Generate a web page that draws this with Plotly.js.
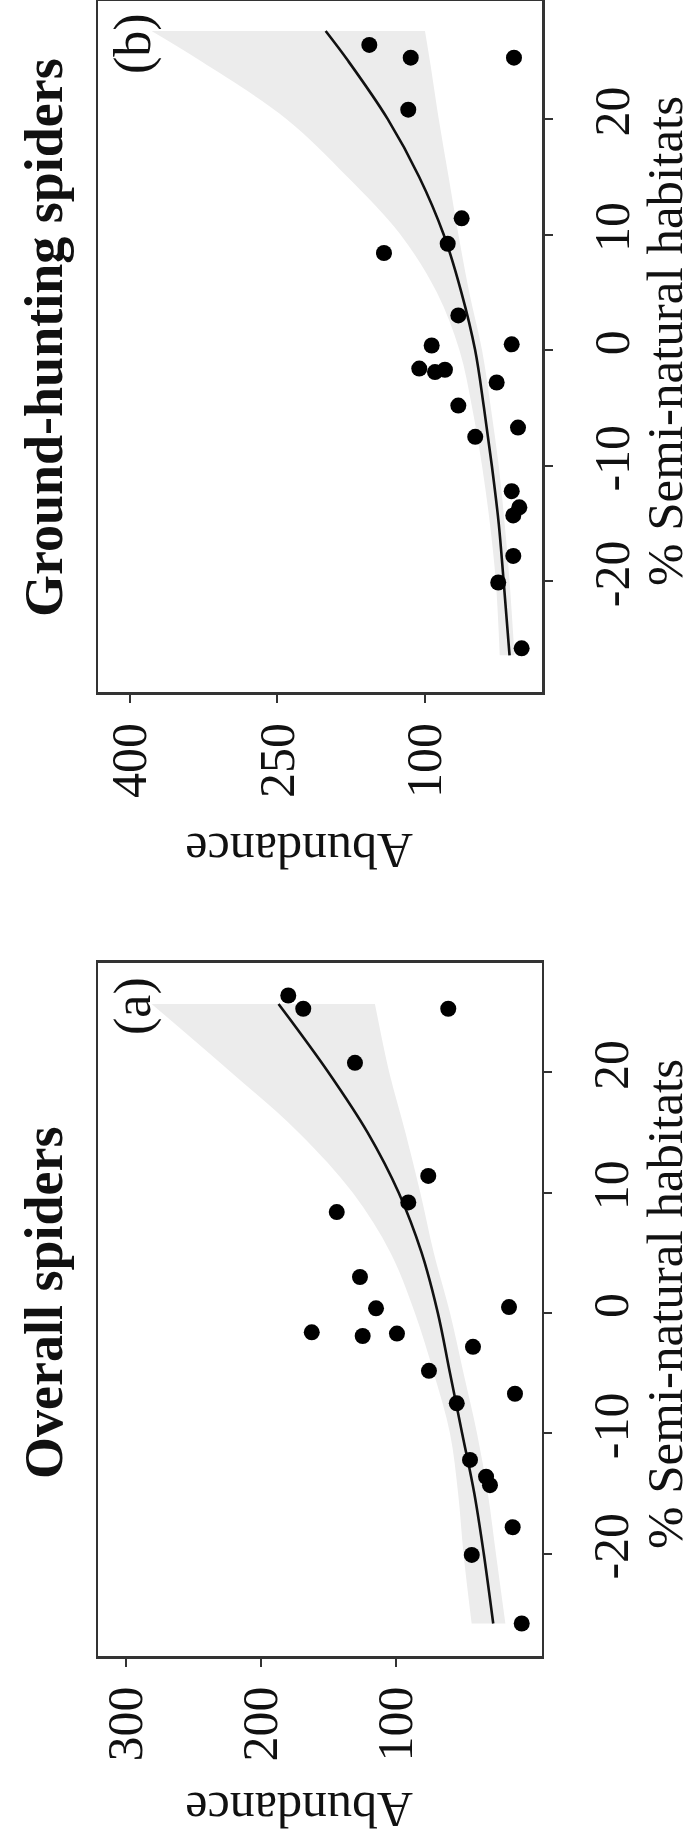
<!DOCTYPE html>
<html>
<head>
<meta charset="utf-8">
<script src="https://cdn.plot.ly/plotly-3.0.1.min.js"></script>
<style>
  html, body { margin: 0; padding: 0; background: #fff; overflow: hidden; }
  #chart { width: 700px; height: 1843px; }
</style>
</head>
<body>
<div id="chart"></div>
<script>
// ---- data ----
// % semi-natural habitats (centred) of the 23 sites, shared by both panels
const habitat = [26.4, 25.3, 25.3, 20.8, 11.4, 9.2, 8.4, 3.0, 0.4, 0.5, -1.6, -1.9, -1.7, -2.8, -4.8, -6.7, -7.5, -12.2, -13.6, -14.3, -17.8, -20.1, -25.8];
// (a) Overall spiders: observed abundance
const overallAbundance = [179.8, 168.7, 61.3, 130.4, 76.1, 90.9, 143.9, 126.7, 114.8, 16.3, 162.4, 124.7, 99.3, 43.0, 75.6, 11.9, 55.0, 45.2, 33.3, 30.4, 13.6, 43.9, 6.9];
// (b) Ground-hunting spiders: observed abundance
const groundAbundance = [156.6, 114.5, 9.5, 117.0, 62.7, 76.9, 141.7, 66.1, 93.2, 11.8, 105.8, 89.8, 79.7, 27.1, 66.1, 5.4, 48.9, 11.8, 4.1, 10.2, 10.2, 25.5, 1.7];

// fitted curve and confidence band, panel (a)
const fitHabitatA = [25.7, 20, 15, 10, 5, 0, -5, -10, -15, -20, -25.8];
const fitOverall = [187, 150, 121, 98, 81, 69, 60, 51, 42, 35, 28];
const bandLowOverall = [115.6, 105, 93, 82, 72, 60, 50, 40, 32, 26, 19];
const bandHighOverall = [281, 222, 172, 132, 104, 86, 72, 60, 54, 50, 44];

// fitted curve and confidence band, panel (b)
const fitHabitatB = [27.6, 25, 20, 15, 10, 5, 0, -5, -10, -15, -20, -26.4];
const fitGround = [201, 178, 138, 106, 81, 63, 49, 40, 32, 25, 20, 14];
const bandLowGround = [100, 95, 86, 76, 66, 55, 42, 33, 25, 19, 14, 9];
const bandHighGround = [378, 328, 241, 179, 125, 88, 65, 52, 42, 34, 28, 24];

// axis tick labels
const ticksOverall = [100, 200, 300];
const ticksGround = [100, 250, 400];
const ticksHabitat = [-20, -10, 0, 10, 20];

const titles = ["Overall spiders", "Ground-hunting spiders"];
const panelLabels = ["(a)", "(b)"];
const xLabel = "% Semi-natural habitats";
const yLabel = "Abundance";

// ---- drawing ----
const W = 700, H = 1843;
const px = v => v / W;
const py = v => 1 - v / H;
const serif = "Liberation Serif, Times New Roman, serif";
const bandColor = "rgb(236,236,236)";

function bandLines(hs, lo, hi, xa, ya) {
  // lower edge first, upper edge filled back to it
  return [
    { x: lo, y: hs, xaxis: xa, yaxis: ya, type: "scatter", mode: "lines",
      line: { width: 0, color: bandColor, shape: "spline" }, hoverinfo: "skip" },
    { x: hi, y: hs, xaxis: xa, yaxis: ya, type: "scatter", mode: "lines",
      fill: "tonextx", fillcolor: bandColor,
      line: { width: 0, color: bandColor, shape: "spline" }, hoverinfo: "skip" }
  ];
}

const traces = [].concat(
  bandLines(fitHabitatA, bandLowOverall, bandHighOverall, "x", "y"),
  [
    { x: fitOverall, y: fitHabitatA, xaxis: "x", yaxis: "y", type: "scatter", mode: "lines",
      line: { color: "#111", width: 2.6, shape: "spline" } },
    { x: overallAbundance, y: habitat, xaxis: "x", yaxis: "y", type: "scatter", mode: "markers",
      marker: { color: "#000", size: 16 } }
  ],
  bandLines(fitHabitatB, bandLowGround, bandHighGround, "x2", "y2"),
  [
    { x: fitGround, y: fitHabitatB, xaxis: "x2", yaxis: "y2", type: "scatter", mode: "lines",
      line: { color: "#111", width: 2.6, shape: "spline" } },
    { x: groundAbundance, y: habitat, xaxis: "x2", yaxis: "y2", type: "scatter", mode: "markers",
      marker: { color: "#000", size: 16 } }
  ]
);

const tickFont = { family: serif, size: 50, color: "#111" };
function abundAxis(domain, range, ticks, anchor) {
  return {
    domain: domain, range: range, anchor: anchor, side: "bottom",
    tickmode: "array", tickvals: ticks, ticktext: ticks.map(String),
    tickangle: -90, ticks: "outside", ticklen: 8, tickwidth: 2, tickcolor: "#333",
    tickfont: tickFont, showgrid: false, zeroline: false,
    showline: true, linewidth: 2.6, linecolor: "#333", mirror: true
  };
}
function habAxis(domain, range, anchor) {
  return {
    domain: domain, range: range, anchor: anchor, side: "right",
    tickmode: "array", tickvals: ticksHabitat, ticktext: ticksHabitat.map(String),
    tickangle: -90, ticks: "outside", ticklen: 8, tickwidth: 2, tickcolor: "#333",
    ticklabelstandoff: 16,
    tickfont: tickFont, showgrid: false, zeroline: false,
    showline: true, linewidth: 2.6, linecolor: "#333", mirror: true
  };
}

const annotations = [];
function addText(text, x, y, angle, size, bold) {
  annotations.push({
    text: bold ? "<b>" + text + "</b>" : text, xref: "paper", yref: "paper",
    x: px(x), y: py(y), xanchor: "center", yanchor: "middle", showarrow: false,
    textangle: angle, font: { family: serif, size: size, color: "#111" }
  });
}
// panel (a) at the bottom of the page, panel (b) at the top
addText(titles[0], 44, 1303, -90, 54, true);
addText(titles[1], 44, 338, -90, 54, true);
addText(panelLabels[0], 133, 1006, -90, 52, false);
addText(panelLabels[1], 133, 44, -90, 52, false);
addText(xLabel, 665, 1304, -90, 51, false);
addText(xLabel, 665, 341, -90, 51, false);
addText(yLabel, 299, 1810, 180, 50, false);
addText(yLabel, 299, 851, 180, 50, false);

const layout = {
  width: W, height: H, autosize: false,
  margin: { l: 0, r: 0, t: 0, b: 0, pad: 0 },
  paper_bgcolor: "#fff", plot_bgcolor: "#fff",
  showlegend: false,
  xaxis: abundAxis([px(98.3), px(541.7)], [320.5, -7.9], ticksOverall, "y"),
  yaxis: habAxis([py(1656), py(963)], [-28.5, 29.1], "x"),
  xaxis2: abundAxis([px(98.3), px(542.3)], [432.2, -19.3], ticksGround, "y2"),
  yaxis2: habAxis([py(692.3), py(1)], [-29.6, 30.2], "x2"),
  annotations: annotations
};

Plotly.newPlot("chart", traces, layout, { displayModeBar: false, staticPlot: true });
</script>
</body>
</html>
